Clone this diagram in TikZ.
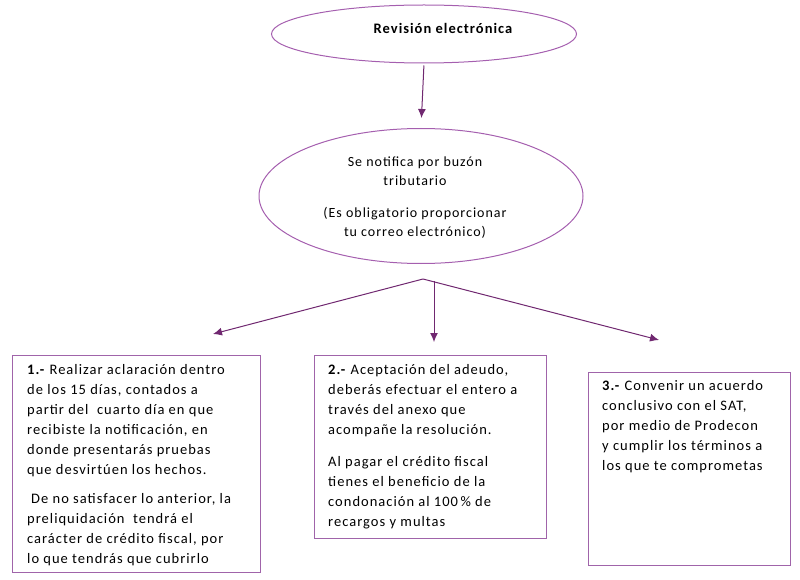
\documentclass[tikz,border=0pt]{standalone}
\usepackage{fontspec}
\setmainfont[LetterSpace=7]{Carlito}
\usetikzlibrary{shapes.geometric,arrows.meta}
\definecolor{ellcol}{RGB}{165,95,175}
\definecolor{arrcol}{RGB}{112,40,112}
\definecolor{boxcol}{RGB}{160,100,170}
\tikzset{
  oval/.style={draw=ellcol, line width=1pt, ellipse, inner sep=0pt},
  flowbox/.style={draw=boxcol, line width=1pt, rectangle, inner sep=0pt},
  conn/.style={draw=arrcol, line width=1pt, -{Latex[length=9pt,width=8pt]}},
  bodytext/.style={inner sep=0pt, align=left, anchor=north west, font=\fontsize{14.5}{20}\selectfont, text=black},
  ovaltext/.style={inner sep=0pt, align=center, font=\fontsize{14}{19}\selectfont, text=black}
}
\begin{document}
\begin{tikzpicture}[x=1pt,y=-1pt]
\useasboundingbox (0,0) rectangle (800,580);
% ellipses
\node[oval, minimum width=305pt, minimum height=58pt] (e1) at (424,34) {};
\node[inner sep=0pt, font=\bfseries\fontsize{14.5}{17}\selectfont] (t1) at (443,28) {Revisión electrónica};
\node[oval, minimum width=324pt, minimum height=135pt] (e2) at (421,196) {};
\node[ovaltext] (t2) at (415,198) {Se notifica por buzón\\tributario\\[13pt](Es obligatorio proporcionar\\tu correo electrónico)};
% boxes
\node[flowbox, minimum width=248pt, minimum height=217pt] (b1) at (136,463.5) {};
\node[flowbox, minimum width=232pt, minimum height=183pt] (b2) at (430,446.5) {};
\node[flowbox, minimum width=202pt, minimum height=193pt] (b3) at (689,468.5) {};
% box texts
\node[bodytext] (x1) at (27,364) {\textbf{1.-} Realizar aclaración dentro\\de los 15 días, contados a\\partir del\ \ cuarto día en que\\recibiste la notificación, en\\donde presentarás pruebas\\que desvirtúen los hechos.\\[9pt]\hspace{4pt}De no satisfacer lo anterior, la\\preliquidación\ \ tendrá el\\carácter de crédito fiscal, por\\lo que tendrás que cubrirlo};
\node[bodytext] (x2) at (328,364) {\textbf{2.-} Aceptación del adeudo,\\deberás efectuar el entero a\\través del anexo que\\acompañe la resolución.\\[12pt]Al pagar el crédito fiscal\\tienes el beneficio de la\\condonación al 100\,\% de\\recargos y multas};
\node[bodytext] (x3) at (602,380) {\textbf{3.-} Convenir un acuerdo\\conclusivo con el SAT,\\por medio de Prodecon\\y cumplir los términos a\\los que te comprometas};
% connectors
\coordinate (br) at (423,279);
\coordinate (a1) at (213,334);
\coordinate (a3) at (659,340);
\coordinate (m0) at (434,281);
\coordinate (m1) at (434,342);
\draw[conn, shorten <=2pt, shorten >=10pt] (e1.south) -- (e2.north);
\draw[conn] (br) -- (a1);
\draw[conn] (br) -- (a3);
\draw[conn] (m0) -- (m1);
\end{tikzpicture}
\end{document}
